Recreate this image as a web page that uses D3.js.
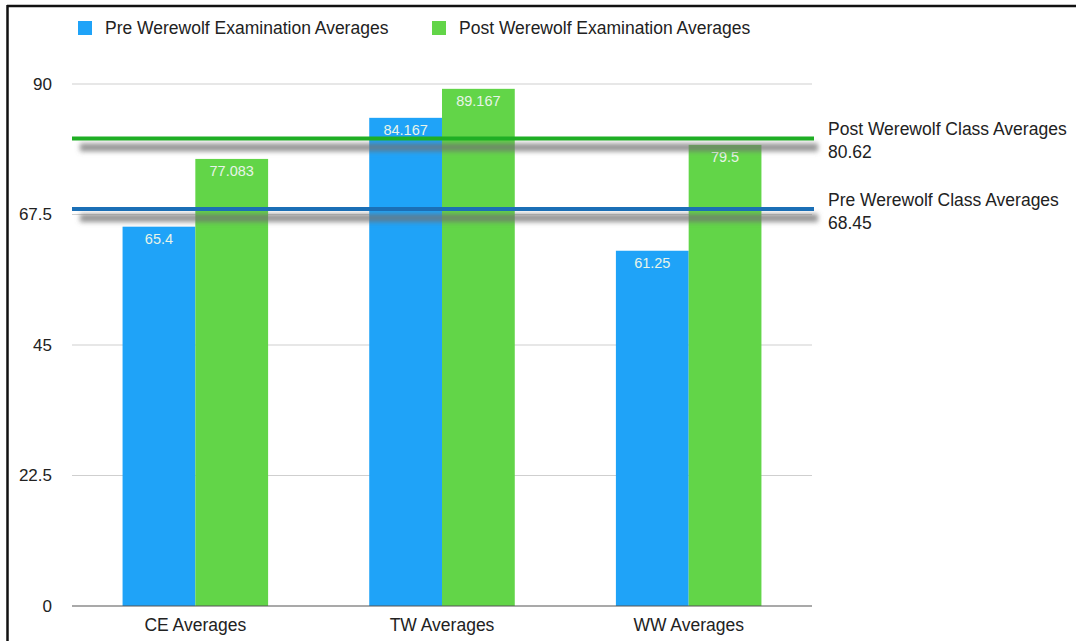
<!DOCTYPE html>
<html>
<head>
<meta charset="utf-8">
<script src="https://cdn.jsdelivr.net/npm/d3@7"></script>
<style>
  html, body { margin: 0; padding: 0; background: #fff; }
  svg { display: block; font-family: "Liberation Sans", Arial, Helvetica, sans-serif; }
</style>
</head>
<body>
<svg id="chart" width="1076" height="641"></svg>
<script>
// Exam averages per group
const categories = ["CE Averages", "TW Averages", "WW Averages"];
const seriesNames = ["Pre Werewolf Examination Averages", "Post Werewolf Examination Averages"];
const preValues = [65.4, 84.167, 61.25];
const postValues = [77.083, 89.167, 79.5];
const yTicks = [0, 22.5, 45, 67.5, 90];
// Class-wide reference lines
const refNames = ["Post Werewolf Class Averages", "Pre Werewolf Class Averages"];
const refValues = [80.62, 68.45];

const barColors = ["#1fa3f8", "#62d548"];
const refColors = ["#1fae24", "#1b6fb6"];

const svg = d3.select("#chart");
const W = 1076, H = 641;
const margin = { left: 72, right: 264, top: 84, bottom: 35 };
const plotW = W - margin.left - margin.right;
const plotH = H - margin.top - margin.bottom;

// Frame edges (top and left)
svg.append("line").attr("x1", 7).attr("x2", W).attr("y1", 6).attr("y2", 6)
  .attr("stroke", "#111").attr("stroke-width", 2.5);
svg.append("line").attr("x1", 7.5).attr("x2", 7.5).attr("y1", 5).attr("y2", H)
  .attr("stroke", "#111").attr("stroke-width", 2.5);

const defs = svg.append("defs");
defs.append("filter").attr("id", "soft")
  .attr("filterUnits", "userSpaceOnUse")
  .attr("x", 0).attr("y", 0).attr("width", W).attr("height", H)
  .append("feGaussianBlur").attr("stdDeviation", 2.8);

const g = svg.append("g").attr("transform", `translate(${margin.left},${margin.top})`);

const x0 = d3.scaleBand().domain(categories).range([0, plotW]).paddingInner(0.41).paddingOuter(0.205);
const x1 = d3.scaleBand().domain(seriesNames).range([0, x0.bandwidth()]).padding(0);
const y = d3.scaleLinear().domain([0, 90]).range([plotH, 0]);

// Gridlines
g.selectAll(".grid").data(yTicks.filter(d => d > 0)).join("line")
  .attr("x1", 0).attr("x2", plotW)
  .attr("y1", d => y(d)).attr("y2", d => y(d))
  .attr("stroke", "#cfcfcf").attr("stroke-width", 1);

// Y tick labels
g.selectAll(".ytick").data(yTicks).join("text")
  .attr("x", -20).attr("y", d => y(d)).attr("dy", "0.35em")
  .attr("text-anchor", "end")
  .attr("font-size", 17).attr("fill", "#222")
  .text(d => d);

// Bars
const rows = categories.map((c, i) => ({ cat: c, vals: [preValues[i], postValues[i]] }));
const groups = g.selectAll(".grp").data(rows).join("g")
  .attr("transform", d => `translate(${x0(d.cat)},0)`);

groups.selectAll("rect").data(d => d.vals.map((v, j) => ({ v, s: seriesNames[j], j }))).join("rect")
  .attr("x", d => x1(d.s)).attr("width", x1.bandwidth())
  .attr("y", d => y(d.v)).attr("height", d => plotH - y(d.v))
  .attr("fill", d => barColors[d.j]);

groups.selectAll("text").data(d => d.vals.map((v, j) => ({ v, s: seriesNames[j], j }))).join("text")
  .attr("x", d => x1(d.s) + x1.bandwidth() / 2)
  .attr("y", d => y(d.v) + 17)
  .attr("text-anchor", "middle")
  .attr("font-size", 14.5).attr("fill", "#e8f4e8")
  .text(d => d.v);

// Baseline
g.append("line").attr("x1", 0).attr("x2", plotW).attr("y1", y(0)).attr("y2", y(0))
  .attr("stroke", "#555").attr("stroke-width", 1.2);

// Category labels
g.selectAll(".xlab").data(categories).join("text")
  .attr("x", d => x0(d) + x0.bandwidth() / 2)
  .attr("y", plotH + 25)
  .attr("text-anchor", "middle")
  .attr("font-size", 17.5).attr("fill", "#222")
  .text(d => d);

// Reference lines with soft drop shadow
refValues.forEach((v, i) => {
  g.append("rect")
    .attr("x", 8).attr("width", plotW - 2)
    .attr("y", y(v) + 5).attr("height", 8)
    .attr("fill", "#707070").attr("fill-opacity", 0.75)
    .attr("filter", "url(#soft)");
  g.append("line")
    .attr("x1", 0).attr("x2", plotW + 2)
    .attr("y1", y(v)).attr("y2", y(v))
    .attr("stroke", refColors[i]).attr("stroke-width", 4);
  g.append("text")
    .attr("x", plotW + 16).attr("y", y(v) - 3)
    .attr("font-size", 17.5).attr("fill", "#222")
    .text(refNames[i]);
  g.append("text")
    .attr("x", plotW + 16).attr("y", y(v) + 20)
    .attr("font-size", 17.5).attr("fill", "#222")
    .text(v);
});

// Legend
const legendX = [78, 432];
seriesNames.forEach((name, i) => {
  svg.append("rect").attr("x", legendX[i]).attr("y", 21).attr("width", 14).attr("height", 14)
    .attr("fill", barColors[i]);
  svg.append("text").attr("x", legendX[i] + 27).attr("y", 28).attr("dy", "0.35em")
    .attr("font-size", 17.5).attr("fill", "#222")
    .text(name);
});
</script>
</body>
</html>
